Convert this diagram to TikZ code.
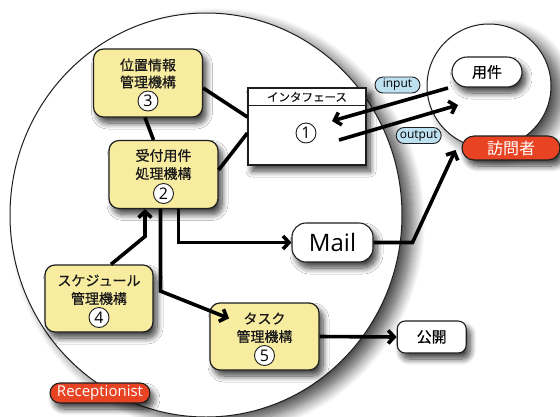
\documentclass[tikz,border=0pt]{standalone}
\usepackage{fontspec}
\setmainfont{Noto Sans CJK JP}[BoldFont={Noto Sans CJK JP},BoldFeatures={FakeBold=0.6}]
\newfontfamily\latinfont{Open Sans}
\usetikzlibrary{arrows.meta,shadows.blur,shapes.geometric,calc}
\definecolor{boxyellow}{RGB}{248,236,160}
\definecolor{vred}{RGB}{232,68,36}
\definecolor{lblue}{RGB}{190,225,242}
\definecolor{edge}{RGB}{30,30,30}
\definecolor{txt}{RGB}{25,25,25}
\tikzset{
  shad/.style={blur shadow={shadow xshift=4pt,shadow yshift=-6pt,shadow blur radius=6pt,shadow blur steps=10,shadow opacity=75}},
  bigshad/.style={blur shadow={shadow xshift=11pt,shadow yshift=-7pt,shadow blur radius=12pt,shadow blur steps=12,shadow opacity=70}},
  mbox/.style={draw=edge,line width=1.2pt,fill=boxyellow,rounded corners=10pt,minimum width=109pt,minimum height=68pt,inner sep=0pt,shad},
  jp/.style={font=\fontsize{14}{17}\selectfont\bfseries,text=txt,inner sep=0pt},
  num/.style={circle,draw=edge,line width=0.9pt,fill=white,minimum size=20pt,inner sep=0pt,font=\latinfont\fontsize{16}{16}\selectfont},
  wbox/.style={draw=edge,line width=1.1pt,fill=white,inner sep=0pt,shad},
  pill/.style={draw=edge,line width=1.1pt,fill=vred,text=white,inner sep=0pt,shad},
  tag/.style={draw=edge,line width=0.9pt,fill=lblue,rounded corners=8pt,minimum width=45pt,minimum height=16pt,inner sep=0pt,font=\latinfont\fontsize{12}{12}\selectfont},
  conn/.style={line width=3.6pt,draw=black},
  arr/.style={conn,-{Straight Barb[length=6pt,width=13pt]}},
}
\begin{document}
\begin{tikzpicture}[x=1pt,y=-1pt]
\useasboundingbox (0,0) rectangle (560,416);
% circles
\node[ellipse,draw=edge,line width=1pt,fill=white,minimum width=392pt,minimum height=404pt,inner sep=0pt,bigshad] (sys) at (206,215) {};
\node[circle,draw=edge,line width=1pt,fill=white,minimum size=124pt,inner sep=0pt,bigshad] (visc) at (489,86) {};

% yellow boxes
\node[mbox] (b3) at (148,83) {};
\node[jp] (b3a) at ($(b3.center)+(0,-18)$) {位置情報};
\node[jp] (b3b) at ($(b3.center)+(0,-1)$) {管理機構};
\node[num] (n3) at ($(b3.center)+(0,18)$) {3};

\node[mbox] (b2) at (163.5,174.5) {};
\node[jp] (b2a) at ($(b2.center)+(0,-19)$) {受付用件};
\node[jp] (b2b) at ($(b2.center)+(0,-1)$) {処理機構};
\node[num] (n2) at ($(b2.center)+(0,19)$) {2};

\node[mbox,minimum width=108pt,minimum height=67pt] (b4) at (99,298.5) {};
\node[jp] (b4a) at ($(b4.center)+(0,-18)$) {スケジュール};
\node[jp] (b4b) at ($(b4.center)+(0,0)$) {管理機構};
\node[num] (n4) at ($(b4.center)+(0,19)$) {4};

\node[mbox,minimum height=67pt] (b5) at (264.5,336.5) {};
\node[jp] (b5a) at ($(b5.center)+(0,-18)$) {タスク};
\node[jp] (b5b) at ($(b5.center)+(0,0)$) {管理機構};
\node[num] (n5) at ($(b5.center)+(0,19)$) {5};

% interface
\node[draw=edge,line width=1.2pt,fill=white,minimum width=118pt,minimum height=77pt,inner sep=0pt,shad] (iface) at (307,126.5) {};
\draw[edge,line width=1.5pt] ($(iface.north west)+(0,18)$) -- ($(iface.north east)+(0,18)$);
\node[font=\fontsize{11.5}{12}\selectfont\bfseries,text=txt,inner sep=0pt] (ift) at ($(iface.north)+(0,9.5)$) {インタフェース};
\node[num] (n1) at (306,133) {1};

% white nodes
\node[wbox,rounded corners=14pt,minimum width=81pt,minimum height=39pt,font=\latinfont\fontsize{24}{24}\selectfont] (mail) at (332.5,242.5) {Mail};
\node[wbox,rounded corners=8pt,minimum width=69pt,minimum height=32pt,font=\fontsize{15}{15}\selectfont\bfseries] (pub) at (431.7,337) {公開};
\node[wbox,rounded corners=15pt,minimum width=70pt,minimum height=30pt,font=\fontsize{15}{15}\selectfont\bfseries] (req) at (487,72) {用件};

% red pills
\node[pill,rounded corners=12pt,minimum width=98pt,minimum height=24pt,font=\fontsize{16}{16}\selectfont] (vis) at (511,148) {訪問者};
\node[pill,rounded corners=10pt,minimum width=100pt,minimum height=20pt,font=\latinfont\fontsize{15}{15}\selectfont] (rec) at (100,393) {Receptionist};

% tags
\node[tag] (tin) at (397.5,85) {input};
\node[tag] (tout) at (418.7,135.5) {output};

% connectors
\draw[conn] ([yshift=-5pt]b3.east) -- ([yshift=9.5pt]iface.west);
\draw[conn] ([xshift=-3pt]b3.south) -- ([xshift=-10pt]b2.north);
\draw[conn] ([yshift=4.5pt]b2.east) -- ([yshift=-6.5pt]iface.west);

\coordinate (inS) at (448,88);
\coordinate (inE) at (332,121);
\draw[arr] (inS) -- (inE);
\coordinate (outS) at (339,140);
\coordinate (outE) at (458,105);
\draw[arr] (outS) -- (outE);

\draw[arr] ([xshift=12pt]b4.north) -- ++(34,-28) -- ([xshift=-18.5pt]b2.south);
\draw[arr] ([xshift=15pt]b2.south) |- (mail.west);
\draw[arr] ([xshift=-3pt]b2.south) -- ++(0,82) -- ([xshift=-35.5pt,yshift=-16pt]b5.north);
\coordinate (mk) at (412.5,242.5);
\draw[arr] (mail.east) -- (mk) -- ([xshift=-6pt,yshift=-2pt]vis.west);
\draw[arr] (b5.east) -- (pub.west);
\end{tikzpicture}
\end{document}
